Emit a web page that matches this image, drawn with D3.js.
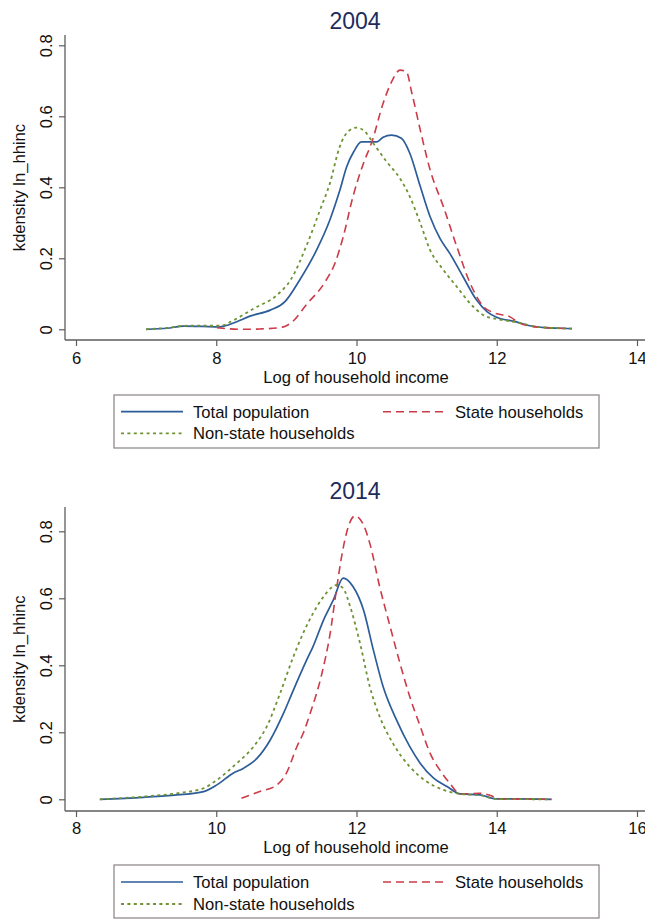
<!DOCTYPE html>
<html>
<head>
<meta charset="utf-8">
<script src="https://cdn.jsdelivr.net/npm/d3@7"></script>
<style>
  body { margin: 0; background: #fff; }
  svg { display: block; }
  text { font-family: "Liberation Sans", Arial, Helvetica, sans-serif; }
</style>
</head>
<body>
<svg id="chart" width="645" height="919"></svg>
<script>
// Kernel density of log household income, [income, density] pairs per group.
const total2004 = [[7.0,0],[7.3,0.003],[7.53,0.009],[7.8,0.008],[8.05,0.007],[8.17,0.012],[8.3,0.022],[8.48,0.037],[8.77,0.054],[8.98,0.078],[9.19,0.139],[9.43,0.223],[9.62,0.308],[9.76,0.39],[9.86,0.458],[9.96,0.5],[10.07,0.528],[10.29,0.528],[10.38,0.541],[10.5,0.547],[10.64,0.538],[10.76,0.496],[10.91,0.402],[11.05,0.317],[11.19,0.256],[11.33,0.214],[11.52,0.148],[11.71,0.083],[11.86,0.05],[12.0,0.034],[12.28,0.021],[12.47,0.01],[12.7,0.0045],[12.89,0.003],[13.07,0.002]];
const state2004 = [[8.01,0.0045],[8.34,0.0],[8.63,0.001],[8.92,0.005],[9.06,0.017],[9.3,0.073],[9.54,0.13],[9.7,0.19],[9.81,0.26],[9.95,0.374],[10.1,0.468],[10.22,0.528],[10.38,0.637],[10.5,0.697],[10.62,0.73],[10.71,0.726],[10.79,0.665],[10.91,0.561],[11.05,0.449],[11.24,0.345],[11.43,0.233],[11.62,0.13],[11.81,0.064],[11.95,0.047],[12.19,0.035],[12.33,0.017],[12.6,0.006],[12.9,0.003],[13.07,0.002]];
const nonstate2004 = [[7.0,0],[7.3,0.004],[7.59,0.01],[7.8,0.01],[8.06,0.01],[8.25,0.026],[8.54,0.059],[8.87,0.097],[9.06,0.139],[9.3,0.242],[9.48,0.336],[9.62,0.411],[9.76,0.514],[9.88,0.557],[10.0,0.568],[10.12,0.557],[10.24,0.524],[10.43,0.472],[10.62,0.425],[10.76,0.374],[10.91,0.299],[11.05,0.223],[11.24,0.167],[11.43,0.12],[11.62,0.073],[11.81,0.04],[12.0,0.029],[12.28,0.02],[12.57,0.007],[12.89,0.003],[13.07,0.002]];

const total2014 = [[8.34,0],[8.96,0.006],[9.44,0.013],[9.82,0.023],[10.01,0.043],[10.24,0.078],[10.39,0.093],[10.58,0.122],[10.77,0.177],[10.96,0.257],[11.1,0.326],[11.29,0.416],[11.38,0.456],[11.53,0.535],[11.67,0.595],[11.81,0.66],[11.95,0.635],[12.1,0.565],[12.24,0.446],[12.38,0.336],[12.57,0.237],[12.76,0.157],[12.91,0.107],[13.1,0.063],[13.29,0.038],[13.48,0.016],[13.76,0.013],[14.0,0.001],[14.28,0.001],[14.78,0]];
const state2014 = [[10.36,0.003],[10.62,0.023],[10.86,0.042],[11.0,0.078],[11.15,0.157],[11.24,0.197],[11.34,0.257],[11.5,0.37],[11.62,0.49],[11.72,0.635],[11.81,0.75],[11.9,0.824],[11.98,0.846],[12.1,0.819],[12.19,0.764],[12.33,0.635],[12.48,0.515],[12.62,0.406],[12.76,0.306],[12.91,0.217],[13.05,0.137],[13.19,0.087],[13.33,0.048],[13.48,0.016],[13.76,0.018],[13.9,0.012],[14.05,0.001],[14.78,0]];
const nonstate2014 = [[8.34,0],[8.96,0.008],[9.44,0.018],[9.82,0.033],[10.01,0.058],[10.29,0.107],[10.53,0.157],[10.72,0.217],[10.91,0.316],[11.1,0.426],[11.24,0.496],[11.38,0.555],[11.53,0.605],[11.65,0.633],[11.72,0.64],[11.81,0.63],[11.91,0.575],[12.05,0.466],[12.19,0.336],[12.33,0.247],[12.52,0.167],[12.76,0.097],[13.0,0.053],[13.24,0.028],[13.48,0.016],[13.76,0.012],[14.0,0.001],[14.78,0]];

const years = ["2004", "2014"];
const seriesNames = ["Total population", "State households", "Non-state households"];
const xTicks2004 = [6, 8, 10, 12, 14];
const xTicks2014 = [8, 10, 12, 14, 16];
const yTicks = [0, 0.2, 0.4, 0.6, 0.8];
const xTitle = "Log of household income";
const yTitle = "kdensity ln_hhinc";

// Line styling per group (same order as seriesNames)
const seriesColors = ["#2c5d98", "#cc3b47", "#6f9232"];
const seriesDash = [null, "8,5", "3,3.4"];
const seriesWidth = [1.7, 1.6, 1.8];

// Vertical layout of each panel
const panels = [
  { year: years[0], series: [total2004, state2004, nonstate2004], xTicks: xTicks2004,
    titleY: 28.5, axisTop: 35, yZero: 329.3, yTop: 45.3, xAxisY: 340,
    tickLabelY: 363.5, xTitleY: 382.5, legendTop: 395, legendBottom: 448, rows: [411.7, 433.3] },
  { year: years[1], series: [total2014, state2014, nonstate2014], xTicks: xTicks2014,
    titleY: 498.5, axisTop: 507, yZero: 799.3, yTop: 531.3, xAxisY: 811,
    tickLabelY: 833.5, xTitleY: 852.5, legendTop: 865, legendBottom: 918, rows: [882, 904] }
];

const W = 645;
const axisX = 65;          // position of the vertical axis line
const xRange = [76, 637];  // first and last x tick
const axisColor = "#5d5d5d";
const titleColor = "#1e2c5c";
const fontSize = 16.6;

const svg = d3.select("#chart");

panels.forEach(p => {
  const g = svg.append("g");
  const x = d3.scaleLinear()
    .domain([p.xTicks[0], p.xTicks[p.xTicks.length - 1]])
    .range(xRange);
  const y = d3.scaleLinear()
    .domain([0, yTicks[yTicks.length - 1]])
    .range([p.yZero, p.yTop]);

  // Title
  g.append("text")
    .attr("x", 355).attr("y", p.titleY)
    .attr("text-anchor", "middle")
    .attr("font-size", 23)
    .attr("fill", titleColor)
    .text(p.year);

  // Y axis
  const yAxis = g.append("g")
    .attr("transform", `translate(${axisX},0)`)
    .call(d3.axisLeft(y).tickValues(yTicks).tickSize(6).tickPadding(0)
      .tickFormat(d => d === 0 ? "0" : d3.format(".1f")(d)));
  yAxis.select(".domain").remove();
  yAxis.selectAll(".tick line").attr("stroke", axisColor).attr("stroke-width", 1.2);
  yAxis.selectAll(".tick text")
    .attr("x", null).attr("dy", null)
    .attr("transform", "translate(-13.5,0) rotate(-90)")
    .attr("text-anchor", "middle")
    .attr("font-size", fontSize)
    .attr("fill", "#111");
  g.append("line")
    .attr("x1", axisX).attr("x2", axisX)
    .attr("y1", p.axisTop).attr("y2", p.xAxisY)
    .attr("stroke", axisColor).attr("stroke-width", 1.3);

  // X axis
  const xAxis = g.append("g")
    .attr("transform", `translate(0,${p.xAxisY})`)
    .call(d3.axisBottom(x).tickValues(p.xTicks).tickSize(6).tickPadding(0));
  xAxis.select(".domain").remove();
  xAxis.selectAll(".tick line").attr("stroke", axisColor).attr("stroke-width", 1.2);
  xAxis.selectAll(".tick text")
    .attr("y", p.tickLabelY - p.xAxisY).attr("dy", null)
    .attr("font-size", fontSize)
    .attr("fill", "#111");
  g.append("line")
    .attr("x1", axisX).attr("x2", W)
    .attr("y1", p.xAxisY).attr("y2", p.xAxisY)
    .attr("stroke", axisColor).attr("stroke-width", 1.3);

  // Axis titles
  g.append("text")
    .attr("x", 356).attr("y", p.xTitleY)
    .attr("text-anchor", "middle")
    .attr("font-size", fontSize)
    .attr("fill", "#111")
    .text(xTitle);
  g.append("text")
    .attr("transform", `translate(25,${(p.axisTop + p.xAxisY) / 2}) rotate(-90)`)
    .attr("text-anchor", "middle")
    .attr("font-size", fontSize)
    .attr("fill", "#111")
    .text(yTitle);

  // Density curves
  const line = d3.line()
    .x(d => x(d[0]))
    .y(d => y(d[1]))
    .curve(d3.curveMonotoneX);
  p.series.forEach((s, i) => {
    g.append("path")
      .datum(s)
      .attr("d", line)
      .attr("fill", "none")
      .attr("stroke", seriesColors[i])
      .attr("stroke-width", seriesWidth[i])
      .attr("stroke-dasharray", seriesDash[i])
      .attr("stroke-linejoin", "round");
  });

  // Legend
  g.append("rect")
    .attr("x", 114).attr("y", p.legendTop)
    .attr("width", 485).attr("height", p.legendBottom - p.legendTop)
    .attr("fill", "#fff")
    .attr("stroke", "#8a8282").attr("stroke-width", 1.2);
  const slots = [
    { col: 0, row: 0 }, { col: 1, row: 0 }, { col: 0, row: 1 }
  ];
  const cols = [{ x1: 121, x2: 183, tx: 193 }, { x1: 383, x2: 446, tx: 455 }];
  seriesNames.forEach((name, i) => {
    const c = cols[slots[i].col];
    const ry = p.rows[slots[i].row];
    g.append("line")
      .attr("x1", c.x1).attr("x2", c.x2)
      .attr("y1", ry).attr("y2", ry)
      .attr("stroke", seriesColors[i])
      .attr("stroke-width", seriesWidth[i])
      .attr("stroke-dasharray", seriesDash[i]);
    g.append("text")
      .attr("x", c.tx).attr("y", ry + 5.8)
      .attr("font-size", fontSize)
      .attr("fill", "#111")
      .text(name);
  });
});
</script>
</body>
</html>
